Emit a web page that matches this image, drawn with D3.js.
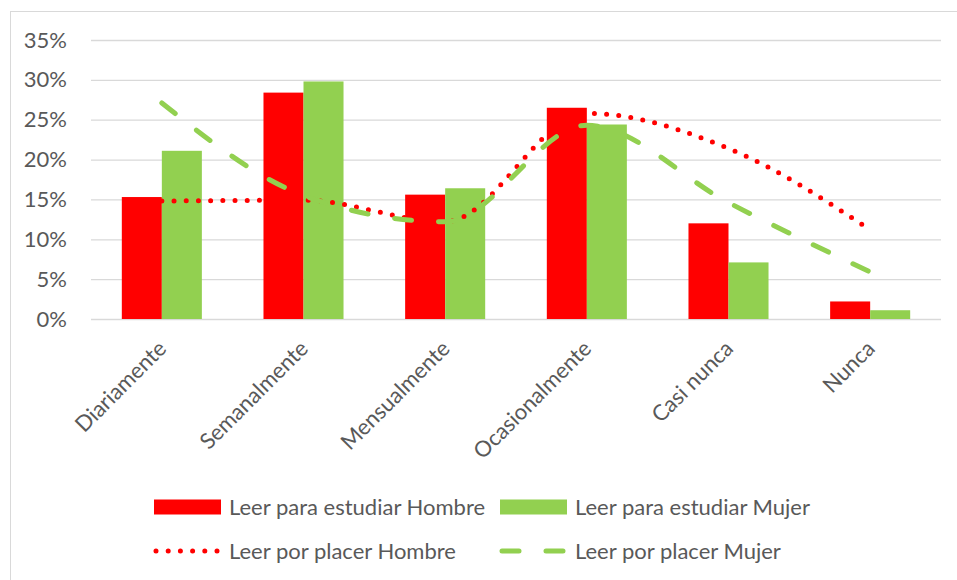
<!DOCTYPE html>
<html>
<head>
<meta charset="utf-8">
<script src="https://cdn.jsdelivr.net/npm/d3@7"></script>
<style>
  body { margin: 0; background: #fff; }
  svg { display: block; font-family: Lato, "Noto Sans", sans-serif; }
</style>
</head>
<body>
<svg id="chart" width="957" height="580"></svg>
<script>
// values (percent)
var categories = ["Diariamente", "Semanalmente", "Mensualmente", "Ocasionalmente", "Casi nunca", "Nunca"];
var estudiarHombre = [15.3, 28.4, 15.6, 26.5, 12.0, 2.2];
var estudiarMujer = [21.1, 29.8, 16.4, 24.4, 7.1, 1.1];
var placerHombre = [14.8, 14.9, 12.2, 25.8, 21.4, 11.2];
var placerMujer = [27.1, 15.5, 12.2, 24.3, 14.6, 5.9];
var yTicks = [0, 5, 10, 15, 20, 25, 30, 35];

var barSeries = [
  {name: "Leer para estudiar Hombre", values: estudiarHombre, color: "#ff0000"},
  {name: "Leer para estudiar Mujer", values: estudiarMujer, color: "#92d050"}
];
var lineSeries = [
  {name: "Leer por placer Hombre", values: placerHombre, color: "#ff0000", dash: "0 12.2"},
  {name: "Leer por placer Mujer", values: placerMujer, color: "#92d050", dash: "17 27"}
];

var svg = d3.select("#chart");
var textColor = "#595959";
var gridColor = "#d9d9d9";

// chart frame
svg.append("rect")
  .attr("x", 10.5).attr("y", 11.5)
  .attr("width", 1000).attr("height", 700)
  .attr("fill", "none").attr("stroke", gridColor);

var plotLeft = 91, plotRight = 941, plotTop = 40, plotBottom = 319;

var x = d3.scaleBand()
  .domain(categories)
  .range([plotLeft, plotRight])
  .paddingInner(0.435)
  .paddingOuter(0.2175);

var x1 = d3.scaleBand()
  .domain([0, 1])
  .range([0, x.bandwidth()]);

var y = d3.scaleLinear()
  .domain([0, 35])
  .range([plotBottom, plotTop]);

// gridlines + tick labels
var yAxis = svg.append("g")
  .attr("transform", "translate(" + plotLeft + ",0)")
  .call(d3.axisLeft(y).tickValues(yTicks).tickSize(-(plotRight - plotLeft)).tickPadding(24)
    .tickFormat(function(d) { return d + "%"; }));
yAxis.select(".domain").remove();
yAxis.selectAll("line").attr("stroke", gridColor).attr("stroke-width", 1.3);
yAxis.selectAll("text")
  .attr("fill", textColor)
  .style("font-size", "22px")
  .style("font-family", "Lato, 'Noto Sans', sans-serif");

// bars
var groups = svg.append("g").selectAll("g")
  .data(categories)
  .enter().append("g")
    .attr("transform", function(d) { return "translate(" + x(d) + ",0)"; });

groups.selectAll("rect")
  .data(function(d, i) {
    return barSeries.map(function(s, j) { return {k: j, v: s.values[i], color: s.color}; });
  })
  .enter().append("rect")
    .attr("x", function(d) { return x1(d.k); })
    .attr("width", x1.bandwidth())
    .attr("y", function(d) { return y(d.v); })
    .attr("height", function(d) { return y(0) - y(d.v); })
    .attr("fill", function(d) { return d.color; });

// smoothed lines
var line = d3.line()
  .x(function(d, i) { return x(categories[i]) + x.bandwidth() / 2; })
  .y(function(d) { return y(d); })
  .curve(d3.curveMonotoneX);

lineSeries.forEach(function(s) {
  svg.append("path")
    .datum(s.values)
    .attr("d", line)
    .attr("fill", "none")
    .attr("stroke", s.color)
    .attr("stroke-width", 5)
    .attr("stroke-linecap", "round")
    .attr("stroke-dasharray", s.dash);
});

// x labels, rotated
svg.append("g").selectAll("text")
  .data(categories)
  .enter().append("text")
    .attr("transform", function(d) {
      return "translate(" + (x(d) + x.bandwidth() / 2 + 6) + ",350) rotate(-45)";
    })
    .attr("text-anchor", "end")
    .attr("fill", textColor)
    .style("font-size", "22px")
    .text(function(d) { return d; });

// legend
var legend = svg.append("g");
var legendPos = [[154, 507], [500, 507], [154, 551], [500, 551]];

barSeries.forEach(function(s, i) {
  var p = legendPos[i];
  legend.append("rect")
    .attr("x", p[0]).attr("y", p[1] - 7.5)
    .attr("width", 67).attr("height", 15)
    .attr("fill", s.color);
  legend.append("text")
    .attr("x", p[0] + 75).attr("y", p[1])
    .attr("dy", "0.35em")
    .attr("fill", textColor)
    .style("font-size", "22px")
    .text(s.name);
});

lineSeries.forEach(function(s, i) {
  var p = legendPos[i + 2];
  legend.append("line")
    .attr("x1", p[0] + 2).attr("x2", p[0] + 65)
    .attr("y1", p[1]).attr("y2", p[1])
    .attr("stroke", s.color)
    .attr("stroke-width", 5)
    .attr("stroke-linecap", "round")
    .attr("stroke-dasharray", s.dash);
  legend.append("text")
    .attr("x", p[0] + 75).attr("y", p[1])
    .attr("dy", "0.35em")
    .attr("fill", textColor)
    .style("font-size", "22px")
    .text(s.name);
});
</script>
</body>
</html>
